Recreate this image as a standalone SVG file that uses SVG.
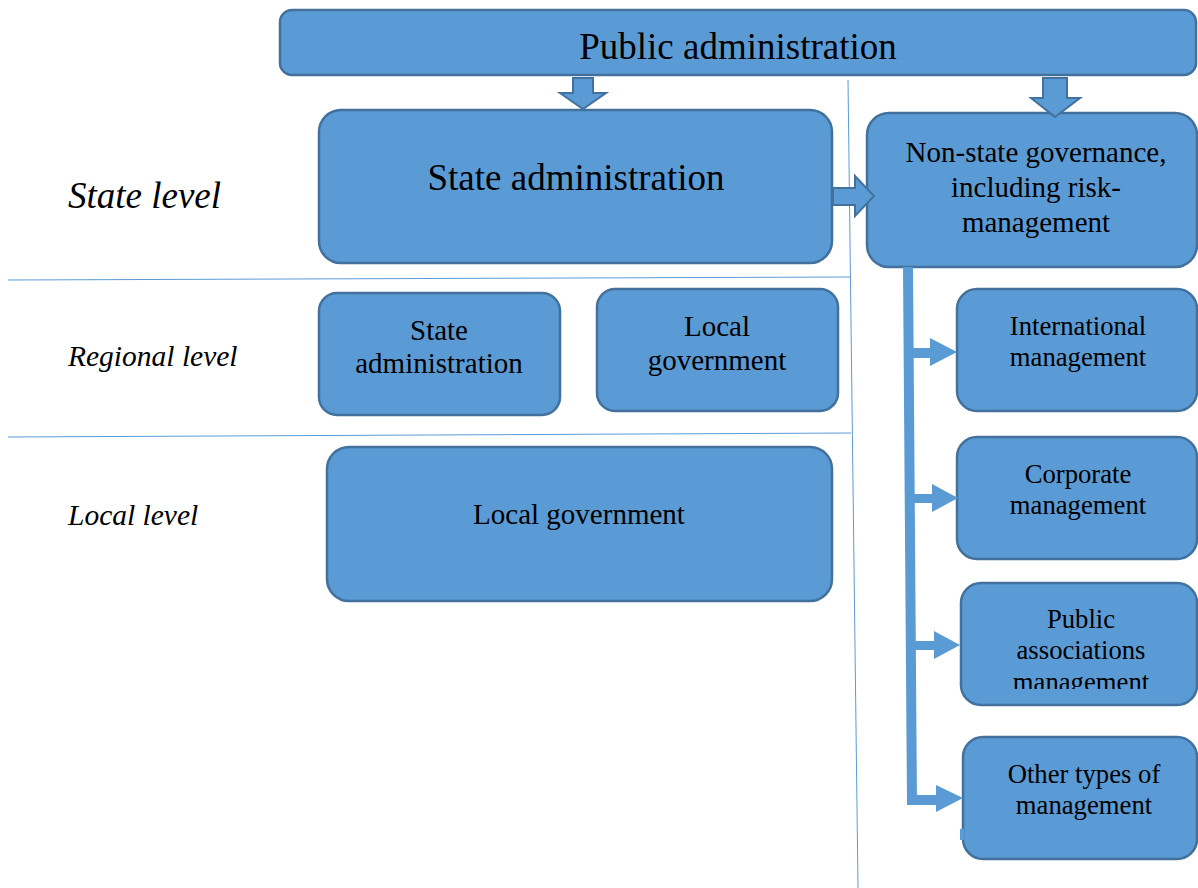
<svg xmlns="http://www.w3.org/2000/svg" width="1198" height="888" viewBox="0 0 1198 888">
<style>
.box{fill:#5B9BD5;stroke:#41719C;stroke-width:2.5}
.arr{fill:#5B9BD5;stroke:#41719C;stroke-width:2}
.t{font-family:"Liberation Serif",serif;fill:#000;text-anchor:middle}
.s{font-size:29px}
.r{font-size:26.7px}
.lbl{font-family:"Liberation Serif",serif;font-style:italic;fill:#000}
.ln{stroke:#5B9BD5;stroke-width:1;fill:none}
.bar{fill:#5B9BD5}
</style>
<defs>
<clipPath id="clipPA"><rect x="961" y="583" width="237" height="106"/></clipPath>
</defs>
<rect width="1198" height="888" fill="#fff"/>
<g id="guides">
<line class="ln" x1="848" y1="80" x2="858" y2="888"/>
<line class="ln" x1="8" y1="280" x2="850" y2="277"/>
<line class="ln" x1="8" y1="437" x2="851" y2="433"/>
</g>
<g id="labels">
<text class="lbl" x="68" y="208" font-size="37">State level</text>
<text class="lbl" x="68" y="366" font-size="29.5">Regional level</text>
<text class="lbl" x="68" y="525" font-size="29.5">Local level</text>
</g>
<g id="public-administration">
<rect class="box" x="280" y="10" width="916" height="65" rx="12"/>
<text class="t" x="738" y="59" font-size="37">Public administration</text>
</g>
<g id="state-administration">
<rect class="box" x="319" y="110" width="513" height="153" rx="22"/>
<text class="t" x="576" y="190" font-size="37">State administration</text>
</g>
<g id="non-state">
<rect class="box" x="867" y="113" width="330" height="154" rx="22"/>
<text class="t s" x="1036" y="162">Non-state governance,</text>
<text class="t s" x="1036" y="197">including risk-</text>
<text class="t s" x="1036" y="232">management</text>
</g>
<g id="regional-state">
<rect class="box" x="319" y="293" width="241" height="122" rx="18"/>
<text class="t s" x="439" y="340">State</text>
<text class="t s" x="439" y="373">administration</text>
</g>
<g id="regional-local">
<rect class="box" x="597" y="289" width="241" height="122" rx="18"/>
<text class="t s" x="717" y="336">Local</text>
<text class="t s" x="717" y="370">government</text>
</g>
<g id="local-government">
<rect class="box" x="327" y="447" width="505" height="154" rx="22"/>
<text class="t s" x="579" y="524">Local government</text>
</g>
<g id="international">
<rect class="box" x="957" y="289" width="240" height="122" rx="20"/>
<text class="t r" x="1078" y="335">International</text>
<text class="t r" x="1078" y="366">management</text>
</g>
<g id="corporate">
<rect class="box" x="957" y="437" width="240" height="122" rx="20"/>
<text class="t r" x="1078" y="483">Corporate</text>
<text class="t r" x="1078" y="514">management</text>
</g>
<g id="public-associations">
<rect class="box" x="961" y="583" width="236" height="122" rx="20"/>
<text class="t r" x="1081" y="628">Public</text>
<text class="t r" x="1081" y="659">associations</text>
<text class="t r" x="1081" y="691" clip-path="url(#clipPA)">management</text>
</g>
<g id="other-types">
<rect class="box" x="963" y="737" width="234" height="122" rx="20"/>
<text class="t r" x="1084" y="783">Other types of</text>
<text class="t r" x="1084" y="814">management</text>
<rect x="960" y="829" width="4" height="11" fill="#5B9BD5"/>
</g>
<g id="connectors">
<polygon class="arr" points="573,78 593,78 593,93 606,93 583,109 560,93 573,93"/>
<polygon class="arr" points="1043,78 1067,78 1067,98 1080,98 1055,117 1031,98 1043,98"/>
<polygon class="arr" points="833,188 855,188 855,176 874,196 855,216 855,205 833,205"/>
<polygon class="bar" points="903,267 913,267 917,805 907,805"/>
<polygon class="bar" points="910,348 930,348 930,338 957,352 930,366 930,358 910,358"/>
<polygon class="bar" points="911,494 932,494 932,484 958,498 932,512 932,503 911,503"/>
<polygon class="bar" points="913,641 934,641 934,631 960,645 934,659 934,650 913,650"/>
<polygon class="bar" points="914,795 936,795 936,785 963,798 936,812 936,805 914,805"/>
</g>
</svg>
